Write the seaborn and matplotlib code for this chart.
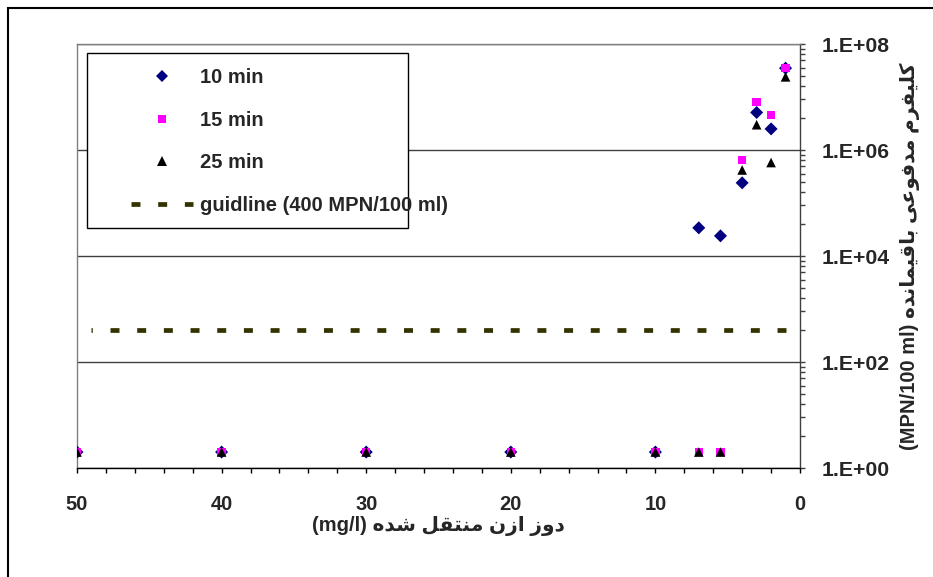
import numpy as np
import pandas as pd
import matplotlib
matplotlib.use("Agg")
import matplotlib.pyplot as plt
import matplotlib.ticker as mticker
from matplotlib.lines import Line2D
from matplotlib.patches import Rectangle
import seaborn as sns

# ozone dose (mg/l) and remaining faecal coliform (MPN/100 ml) per contact time
dose = [50, 40, 30, 20, 10, 7, 5.5, 4, 3, 2, 1]
mpn_10min = [2, 2, 2, 2, 2, 3.4e4, 2.4e4, 2.4e5, 5.1e6, 2.5e6, 3.5e7]
mpn_15min = [2, 2, 2, 2, 2, 2, 2, 6.5e5, 8.1e6, 4.6e6, 3.55e7]
mpn_25min = [2, 2, 2, 2, 2, 2, 2, 4.2e5, 3.0e6, 5.8e5, 2.4e7]
series = ['10 min', '15 min', '25 min']
guide_x = [49, 1]
guide_y = [400, 400]
guide_label = 'guidline (400 MPN/100 ml)'
x_ticks = [0, 10, 20, 30, 40, 50]
y_ticks = [1, 1e2, 1e4, 1e6, 1e8]
xlabel_fa = 'دوز ازن منتقل شده'
ylabel_fa = 'کلیفرم مدفوعی باقیمانده'

colors = {'10 min': '#000080', '15 min': '#FF00FF', '25 min': '#000000'}
markers = {'10 min': 'D', '15 min': 's', '25 min': '^'}
sizes = {'10 min': 44, '15 min': 36, '25 min': 48}
guide_color = '#333300'

# Persian letters -> presentation forms (isolated, final, initial, medial)
FORMS = {
    'ا': ('\uFE8D', '\uFE8E', None, None),
    'ب': ('\uFE8F', '\uFE90', '\uFE91', '\uFE92'),
    'ت': ('\uFE95', '\uFE96', '\uFE97', '\uFE98'),
    'د': ('\uFEA9', '\uFEAA', None, None),
    'ر': ('\uFEAD', '\uFEAE', None, None),
    'ز': ('\uFEAF', '\uFEB0', None, None),
    'ش': ('\uFEB5', '\uFEB6', '\uFEB7', '\uFEB8'),
    'ع': ('\uFEC9', '\uFECA', '\uFECB', '\uFECC'),
    'ف': ('\uFED1', '\uFED2', '\uFED3', '\uFED4'),
    'ق': ('\uFED5', '\uFED6', '\uFED7', '\uFED8'),
    'ك': ('\uFED9', '\uFEDA', '\uFEDB', '\uFEDC'),
    'ل': ('\uFEDD', '\uFEDE', '\uFEDF', '\uFEE0'),
    'م': ('\uFEE1', '\uFEE2', '\uFEE3', '\uFEE4'),
    'ن': ('\uFEE5', '\uFEE6', '\uFEE7', '\uFEE8'),
    'ه': ('\uFEE9', '\uFEEA', '\uFEEB', '\uFEEC'),
    'و': ('\uFEED', '\uFEEE', None, None),
    'ي': ('\uFEF1', '\uFEF2', '\uFEF3', '\uFEF4'),
    '\u06A9': ('\uFB8E', '\uFB8F', '\uFB90', '\uFB91'),
    '\u06CC': ('\uFBFC', '\uFBFD', '\uFBFE', '\uFBFF'),
}


def shape_fa(text):
    # matplotlib has no Arabic shaping / bidi, so build the visual string by hand
    words = []
    for word in text.split(' '):
        out = []
        for i, ch in enumerate(word):
            if ch not in FORMS:
                out.append(ch)
                continue
            iso, fin, ini, med = FORMS[ch]
            prev_joins = i > 0 and word[i - 1] in FORMS and FORMS[word[i - 1]][2] is not None
            next_joins = ini is not None and i < len(word) - 1 and word[i + 1] in FORMS
            if prev_joins and next_joins:
                out.append(med)
            elif prev_joins:
                out.append(fin)
            elif next_joins:
                out.append(ini)
            else:
                out.append(iso)
        words.append(''.join(out))
    return ' '.join(words)[::-1]


df = pd.DataFrame({
    'dose': dose * 3,
    'mpn': mpn_10min + mpn_15min + mpn_25min,
    'series': np.repeat(series, len(dose)),
})

sns.set_style('white')
plt.rcParams['font.family'] = ['Liberation Sans', 'DejaVu Sans']
plt.rcParams['font.weight'] = 'bold'
plt.rcParams['axes.labelweight'] = 'bold'

fig, ax = plt.subplots(figsize=(9.33, 5.77), dpi=100)
fig.subplots_adjust(left=77 / 933, right=800 / 933, top=1 - 44 / 577, bottom=1 - 468 / 577)
ax.set_yscale('log')

sns.lineplot(x=guide_x, y=guide_y, color=guide_color, lw=3.4,
             linestyle=(0, (1.9, 3.75)), ax=ax, zorder=2)

sns.scatterplot(
    data=df, x='dose', y='mpn',
    hue='series', style='series', size='series',
    palette=colors, markers=markers, sizes=sizes,
    linewidth=0, legend=False, ax=ax, zorder=4,
)

ax.set_xlim(50, 0)
ax.set_ylim(1, 1e8)
ax.set_xticks(x_ticks)
ax.xaxis.set_minor_locator(mticker.MultipleLocator(2))
ax.yaxis.tick_right()
ax.yaxis.set_label_position('right')
ax.set_yticks(y_ticks)
ax.yaxis.set_major_formatter(mticker.FuncFormatter(lambda v, p: '1.E+%02d' % round(np.log10(v))))
# Excel-style log axis with base 100: minor ticks at k^2 within each major step
ax.yaxis.set_minor_locator(mticker.LogLocator(base=100, subs=[4, 9, 16, 25, 36, 49, 64, 81], numticks=30))
ax.yaxis.set_minor_formatter(mticker.NullFormatter())

ax.tick_params(axis='x', which='both', direction='out', length=3.6, width=1, bottom=True, color='black')
ax.tick_params(axis='x', which='major', pad=16, labelsize=14.5)
ax.tick_params(axis='y', which='both', direction='out', length=3.6, width=1, right=True, left=False, color='#404040')
ax.tick_params(axis='y', which='major', pad=12, labelsize=15.3)

ax.yaxis.grid(True, which='major', color='#404040', lw=1)
ax.xaxis.grid(False)

for side, c in [('top', '#808080'), ('left', '#808080'), ('bottom', 'black'), ('right', '#404040')]:
    ax.spines[side].set_visible(True)
    ax.spines[side].set_color(c)
    ax.spines[side].set_linewidth(1)

ax.set_xlabel('(mg/l) ' + shape_fa(xlabel_fa), fontsize=14.5, labelpad=1)
ax.set_ylabel('(MPN/100 ml) ' + shape_fa(ylabel_fa), fontsize=14.5, labelpad=7)

# legend box (drawn as a patch so the padding can match the reference)
ax.add_patch(Rectangle((87 / 933, 1 - 228 / 577), 321 / 933, 175 / 577,
                       transform=fig.transFigure, facecolor='white',
                       edgecolor='black', lw=1, zorder=3, clip_on=False))
handles = [
    Line2D([], [], ls='none', marker='D', color=colors['10 min'], markersize=6.6, mew=0),
    Line2D([], [], ls='none', marker='s', color=colors['15 min'], markersize=5.8, mew=0),
    Line2D([], [], ls='none', marker='^', color=colors['25 min'], markersize=6.6, mew=0),
    Line2D([], [], color=guide_color, lw=3.4, linestyle=(0, (1.9, 3.75))),
]
ax.legend(handles, series + [guide_label], loc='upper left',
          bbox_to_anchor=(131 / 933, 1 - 68 / 577), bbox_transform=fig.transFigure,
          frameon=False, borderpad=0, borderaxespad=0, handlelength=3.08,
          handletextpad=0.35, labelspacing=1.17, fontsize=14.5)

# outer chart border (cut off at right and bottom like the original)
fig.add_artist(Rectangle((8 / 933, -0.1), 1.2, 1.1 - 8 / 577, transform=fig.transFigure,
                         fill=False, edgecolor='black', lw=1.5))

fig.savefig('out.png', dpi=100)
